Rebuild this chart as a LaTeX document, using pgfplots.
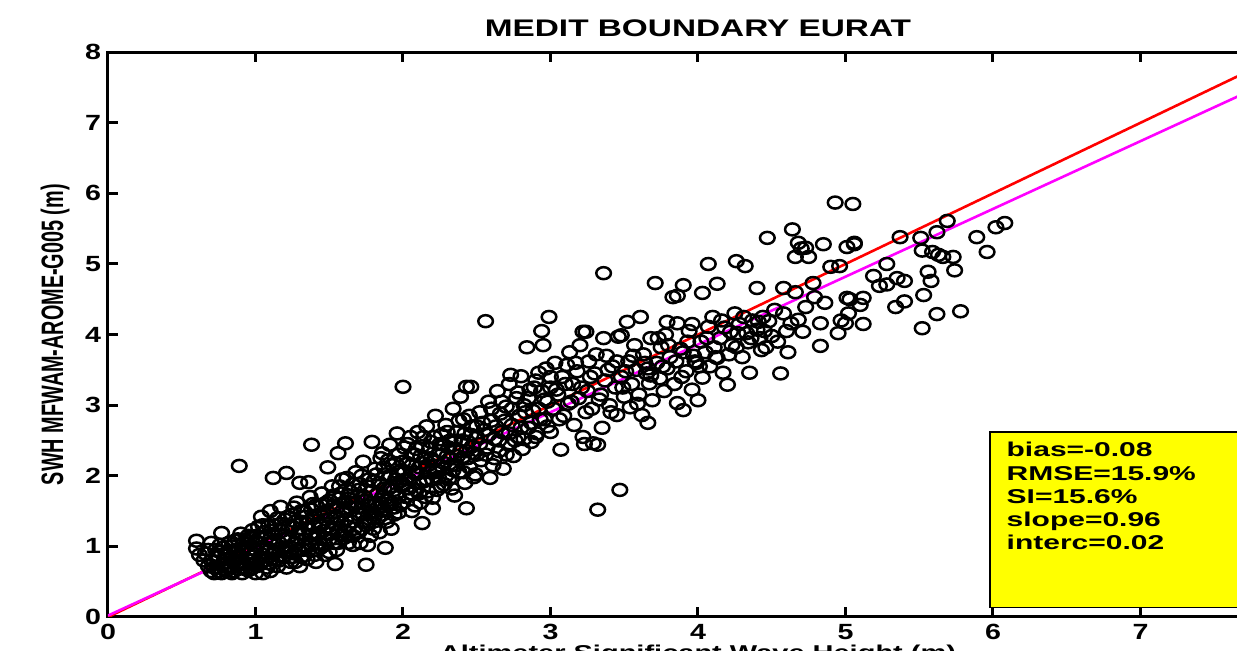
\documentclass[border=0pt]{standalone}
\usepackage{fontspec}
\setmainfont{Liberation Sans}
\newfontfamily\titlefont[FakeStretch=1.39]{Liberation Sans}
\newfontfamily\tickfont[FakeStretch=1.3]{Liberation Sans}
\newfontfamily\statfont[FakeStretch=1.5]{Liberation Sans}
\newfontfamily\xlabfont[FakeStretch=1.45]{Liberation Sans}
\newfontfamily\ylabfont[FakeStretch=0.64]{Liberation Sans}
\usepackage{pgfplots}
\pgfplotsset{compat=1.18}
\definecolor{mred}{RGB}{255,0,0}
\definecolor{mmag}{RGB}{255,0,255}
\definecolor{myel}{RGB}{255,255,0}

% SWH scatter: x = reference, y = model
\pgfplotstableread{
x y
0.60 1.08
0.60 0.97
0.62 0.88
0.65 0.80
0.66 0.90
0.68 0.72
0.70 0.65
0.70 0.80
0.72 0.62
0.73 0.95
0.74 0.70
0.75 0.85
0.76 1.02
0.77 1.19
0.77 0.62
0.78 0.75
0.80 0.90
0.80 0.65
0.82 0.70
0.82 1.05
0.84 0.62
0.85 0.80
0.86 0.95
0.88 0.68
0.88 1.10
0.90 1.18
0.90 0.85
0.91 0.62
0.92 0.75
0.93 1.00
0.95 0.66
0.95 0.90
0.96 1.12
0.97 0.80
0.98 1.23
0.98 0.70
1.00 0.95
1.00 0.62
0.89 2.14
0.68 0.95
0.70 1.05
0.72 0.78
0.74 0.88
0.75 0.65
0.78 0.98
0.79 0.68
0.81 0.82
0.83 0.92
0.85 0.65
0.86 1.08
0.87 0.75
0.89 0.88
0.90 0.70
0.92 1.05
0.94 0.82
0.95 1.15
0.97 0.68
0.99 0.86
1.00 1.08
1.01 0.72
1.02 1.28
0.72 0.70
0.76 0.92
0.79 0.82
0.83 0.72
0.84 1.00
0.87 0.85
0.91 0.95
0.93 0.68
0.94 1.08
0.97 0.92
0.99 0.75
1.02 1.05
1.03 0.75
1.04 1.42
1.05 0.62
1.05 0.88
1.06 1.20
1.08 0.98
1.08 0.70
1.10 1.50
1.10 1.10
1.11 0.82
1.12 1.97
1.13 1.30
1.14 0.92
1.15 0.72
1.16 1.05
1.17 1.56
1.18 1.22
1.19 0.85
1.20 1.38
1.21 2.04
1.21 0.98
1.22 1.12
1.24 0.78
1.25 1.45
1.25 1.28
1.26 0.90
1.27 1.05
1.28 1.62
1.29 1.18
1.30 1.90
1.30 0.72
1.31 1.35
1.32 0.95
1.33 1.50
1.34 1.10
1.35 0.82
1.36 1.91
1.36 1.25
1.37 1.70
1.38 2.44
1.38 1.02
1.39 1.40
1.40 0.88
1.41 1.58
1.42 1.18
1.43 1.32
1.44 0.98
1.45 1.75
1.46 1.48
1.47 1.12
1.48 1.62
1.49 2.12
1.49 1.28
1.50 0.92
1.04 0.96
1.06 0.80
1.07 1.12
1.09 1.30
1.10 0.65
1.12 0.90
1.13 1.18
1.15 1.40
1.16 0.80
1.18 0.98
1.20 1.15
1.21 0.70
1.23 1.28
1.24 0.92
1.26 1.55
1.27 0.78
1.28 1.10
1.30 1.25
1.31 0.85
1.33 1.02
1.34 1.42
1.36 0.95
1.37 1.15
1.39 1.60
1.40 1.28
1.41 0.78
1.43 1.05
1.44 1.45
1.46 1.22
1.47 0.88
1.48 1.38
1.50 1.65
1.50 1.10
1.01 1.15
1.03 0.85
1.05 1.30
1.07 0.92
1.09 0.76
1.11 1.22
1.12 1.05
1.14 0.82
1.17 1.32
1.19 1.10
1.20 0.92
1.22 1.42
1.23 1.00
1.25 0.85
1.27 1.35
1.29 0.95
1.31 1.50
1.32 1.18
1.35 1.32
1.36 1.05
1.38 1.52
1.40 1.12
1.42 0.95
1.44 1.30
1.45 1.58
1.47 1.02
1.49 1.48
1.51 1.40
1.52 1.85
1.53 1.05
1.54 0.75
1.55 1.55
1.56 2.32
1.56 1.22
1.57 1.68
1.58 1.35
1.59 1.95
1.60 1.12
1.61 2.46
1.62 1.97
1.62 1.50
1.63 1.28
1.64 1.78
1.65 1.60
1.66 1.02
1.67 1.42
1.68 2.05
1.69 1.70
1.70 1.20
1.71 1.88
1.72 1.55
1.73 2.20
1.74 1.35
1.75 0.74
1.75 1.65
1.76 1.02
1.77 1.95
1.78 1.48
1.79 2.48
1.79 1.78
1.80 1.25
1.81 2.10
1.82 1.60
1.83 1.40
1.84 1.90
1.85 2.25
1.86 2.32
1.86 1.70
1.87 1.52
1.88 0.98
1.88 2.02
1.89 1.35
1.90 1.82
1.91 2.44
1.92 1.62
1.93 2.15
1.94 1.45
1.95 1.95
1.96 2.60
1.96 1.75
1.97 2.30
1.98 1.58
1.99 2.08
2.00 3.26
2.00 1.88
1.52 1.25
1.53 1.72
1.55 0.95
1.55 1.42
1.57 1.85
1.58 1.15
1.60 1.62
1.61 1.38
1.63 1.05
1.64 1.55
1.66 1.88
1.67 1.25
1.68 1.62
1.70 1.45
1.71 1.05
1.72 2.00
1.74 1.70
1.75 1.30
1.77 1.58
1.78 1.15
1.80 1.92
1.81 1.45
1.83 1.75
1.84 1.20
1.85 1.62
1.87 2.12
1.88 1.40
1.90 1.58
1.91 2.00
1.92 1.25
1.94 1.80
1.95 2.18
1.97 1.48
1.98 1.92
2.00 2.20
2.00 1.62
1.51 1.18
1.53 1.58
1.54 1.32
1.56 1.05
1.58 1.75
1.59 1.50
1.61 1.22
1.63 1.68
1.65 1.35
1.66 1.15
1.69 1.55
1.70 1.80
1.72 1.25
1.73 1.45
1.76 1.85
1.77 1.35
1.79 1.62
1.80 1.40
1.82 2.02
1.83 1.55
1.86 1.45
1.87 1.82
1.89 1.65
1.90 2.22
1.92 1.85
1.94 1.55
1.96 2.05
1.97 1.70
1.99 1.85
2.01 2.40
2.02 1.70
2.03 2.18
2.04 1.95
2.05 2.55
2.06 1.50
2.07 2.05
2.08 2.30
2.09 1.80
2.10 2.62
2.11 2.12
2.12 1.62
2.13 1.33
2.13 2.42
2.14 1.92
2.15 2.25
2.16 2.70
2.17 1.78
2.18 2.05
2.19 2.48
2.20 1.69
2.20 1.54
2.21 2.20
2.22 2.85
2.23 1.80
2.24 1.98
2.25 2.35
2.26 2.58
2.27 2.10
2.28 1.88
2.29 2.72
2.30 2.28
2.31 1.95
2.32 2.50
2.33 2.15
2.34 2.95
2.35 1.72
2.36 2.38
2.37 2.62
2.38 2.05
2.39 3.12
2.40 2.25
2.41 2.80
2.42 1.90
2.43 1.54
2.43 3.26
2.44 2.48
2.45 2.12
2.46 3.26
2.47 2.70
2.48 2.32
2.49 2.02
2.50 2.55
2.02 1.95
2.03 2.45
2.05 1.75
2.06 2.15
2.08 1.58
2.09 2.38
2.11 1.90
2.12 2.28
2.14 2.55
2.15 1.70
2.17 2.15
2.18 2.38
2.20 1.95
2.21 2.55
2.23 2.08
2.24 2.30
2.26 1.85
2.27 2.45
2.29 2.00
2.30 2.62
2.32 2.25
2.33 1.82
2.35 2.50
2.36 2.15
2.38 2.78
2.39 2.35
2.41 2.05
2.42 2.60
2.44 2.25
2.45 2.85
2.47 2.42
2.48 1.98
2.50 2.70
2.50 2.30
2.01 2.05
2.04 1.82
2.06 2.30
2.09 2.02
2.11 1.75
2.13 2.18
2.16 1.95
2.19 2.25
2.22 2.05
2.25 2.45
2.28 2.18
2.31 2.40
2.34 2.08
2.37 2.28
2.40 2.50
2.43 2.35
2.46 2.58
2.52 2.90
2.53 2.22
2.55 2.65
2.56 4.19
2.57 2.40
2.58 3.05
2.59 1.97
2.60 2.78
2.61 2.15
2.62 2.52
2.64 3.20
2.65 2.35
2.66 2.88
2.67 2.62
2.68 2.10
2.70 2.98
2.71 2.45
2.72 3.30
2.73 3.43
2.74 2.72
2.75 2.28
2.77 3.10
2.78 2.55
2.79 2.85
2.80 3.41
2.81 2.38
2.82 3.00
2.84 3.82
2.85 2.68
2.86 3.22
2.87 2.48
2.88 2.92
2.90 3.35
2.91 2.60
2.92 3.46
2.93 2.80
2.94 4.05
2.95 3.85
2.96 3.08
2.97 3.52
2.98 2.70
2.99 4.25
3.00 3.25
2.52 2.45
2.54 2.75
2.56 2.30
2.58 2.58
2.60 2.95
2.62 2.25
2.63 2.70
2.65 2.50
2.67 3.05
2.69 2.78
2.70 2.30
2.72 2.60
2.74 2.95
2.76 2.50
2.78 3.18
2.80 2.68
2.82 2.52
2.83 2.90
2.85 3.10
2.87 2.75
2.89 3.25
2.90 2.55
2.92 2.95
2.94 3.20
2.96 2.80
2.98 3.05
3.00 2.62
3.00 3.40
3.02 2.95
3.03 3.60
3.05 3.15
3.07 2.37
3.08 3.40
3.09 2.85
3.11 3.57
3.12 3.02
3.13 3.75
3.15 3.30
3.16 2.72
3.18 3.48
3.19 3.10
3.20 3.85
3.22 2.55
3.22 4.04
3.23 2.45
3.24 4.04
3.25 3.20
3.26 3.62
3.28 2.95
3.29 2.46
3.30 3.45
3.32 1.52
3.32 2.44
3.33 3.08
3.35 2.68
3.36 4.87
3.36 3.95
3.37 3.35
3.38 3.70
3.40 3.00
3.42 3.55
3.44 3.25
3.45 2.86
3.46 3.97
3.47 1.80
3.48 3.99
3.48 3.40
3.50 3.12
3.04 3.22
3.06 2.80
3.10 3.30
3.14 3.05
3.17 3.60
3.21 3.25
3.24 2.90
3.27 3.40
3.31 3.72
3.34 3.15
3.39 3.50
3.41 2.90
3.45 3.62
3.49 3.25
3.52 4.18
3.53 3.62
3.54 2.97
3.55 3.30
3.57 3.85
3.58 3.50
3.60 3.15
3.61 4.25
3.62 2.86
3.63 3.72
3.65 3.45
3.66 3.52
3.66 2.75
3.67 3.31
3.68 3.95
3.69 3.07
3.71 4.73
3.72 3.60
3.74 3.38
3.75 3.82
3.77 3.20
3.78 4.00
3.79 3.52
3.79 4.18
3.81 3.68
3.83 4.53
3.84 3.30
3.86 4.55
3.86 4.16
3.86 3.03
3.88 3.80
3.90 4.70
3.90 3.75
3.90 2.93
3.92 3.48
3.94 4.05
3.96 4.15
3.96 3.22
3.98 3.62
3.99 3.60
4.00 3.07
3.51 3.48
3.56 3.70
3.59 3.02
3.64 3.60
3.68 3.42
3.73 3.95
3.76 3.55
3.80 3.85
3.85 3.62
3.89 3.40
3.93 3.90
3.97 3.70
4.02 3.90
4.03 4.59
4.03 3.39
4.05 3.75
4.07 5.00
4.07 4.11
4.08 3.55
4.10 4.25
4.12 3.68
4.13 4.72
4.13 3.67
4.15 3.95
4.17 3.46
4.18 4.10
4.20 3.29
4.22 4.04
4.23 3.85
4.25 4.30
4.26 5.04
4.26 3.82
4.28 4.15
4.30 3.68
4.32 4.97
4.33 4.02
4.34 3.89
4.35 3.46
4.37 4.20
4.40 4.66
4.40 4.07
4.42 3.95
4.43 3.78
4.44 4.25
4.46 3.82
4.47 5.37
4.48 4.19
4.50 3.98
4.01 3.55
4.06 3.95
4.11 3.82
4.16 4.20
4.21 3.72
4.27 4.02
4.31 4.25
4.36 3.95
4.41 4.18
4.45 4.05
4.52 4.35
4.54 3.90
4.56 3.45
4.58 4.66
4.58 4.30
4.60 4.05
4.61 3.75
4.63 4.16
4.64 5.49
4.66 4.60
4.66 5.10
4.68 5.30
4.68 4.21
4.70 5.22
4.71 4.04
4.73 5.23
4.73 4.39
4.75 5.10
4.78 4.73
4.79 4.53
4.83 4.16
4.83 3.84
4.85 5.28
4.86 4.45
4.90 4.96
4.93 5.87
4.95 4.02
4.96 4.97
4.97 4.20
5.00 4.16
5.01 5.24
5.01 4.52
5.02 4.30
5.03 4.50
5.05 5.85
5.06 5.30
5.06 5.28
5.10 4.42
5.12 4.52
5.12 4.15
5.19 4.83
5.23 4.69
5.28 5.00
5.28 4.71
5.34 4.39
5.35 4.80
5.37 5.38
5.40 4.76
5.40 4.47
5.51 5.37
5.52 4.09
5.52 5.19
5.53 4.56
5.56 4.89
5.58 4.76
5.59 5.17
5.62 5.45
5.62 4.29
5.63 5.13
5.66 5.10
5.69 5.61
5.73 5.10
5.74 4.91
5.78 4.33
5.89 5.38
5.96 5.17
6.02 5.52
6.08 5.58
}\swhdata

\begin{document}
\begin{tikzpicture}
\begin{axis}[
    scale only axis,
    width=590pt, height=282.4pt,
    xmin=0, xmax=8, ymin=0, ymax=8,
    xtick={0,...,8}, ytick={0,...,8},
    tick align=inside,
    major tick length=5pt,
    major tick style={black, line width=1.5pt},
    axis line style={line width=1.5pt},
    /pgf/number format/assume math mode=true,
    ticklabel style={font=\tickfont\bfseries\fontsize{11}{13}\selectfont},
    title={MEDIT BOUNDARY EURAT},
    title style={font=\titlefont\bfseries\fontsize{12}{14}\selectfont,
        at={(axis description cs:0.5,1)}, anchor=base, yshift=1.6pt},
    xlabel={Altimeter Significant Wave Height (m)},
    xlabel style={font=\xlabfont\bfseries\fontsize{10}{12}\selectfont,
        at={(axis description cs:0.5,0)}, anchor=north, inner sep=0pt, yshift=-14pt},
    ylabel={SWH MFWAM-AROME-G005 (m)},
    ylabel style={font=\ylabfont\bfseries\fontsize{15.5}{17}\selectfont,
        at={(axis description cs:0,0.5)}, anchor=center, yshift=26.5pt},
]
\addplot[only marks, mark=o, mark size=3pt,
    mark options={xscale=1.22, line width=1.25pt, black}] table[x=x, y=y] {\swhdata};
\addplot[mred, line width=1.3pt] coordinates {(0,0) (8,8)};
\addplot[mmag, line width=1.3pt] coordinates {(0,0.02) (8,7.70)};
\draw[fill=myel, line width=0.6pt] (axis cs:5.98,0.14) rectangle (axis cs:8.2,2.62);
\node[anchor=north west, inner sep=0pt, align=left,
    font=\statfont\bfseries\fontsize{10}{11.65}\selectfont]
    at (axis cs:6.09,2.48) {bias=-0.08\\RMSE=15.9\%\\SI=15.6\%\\slope=0.96\\interc=0.02};
\end{axis}
\pgfresetboundingbox
\path[use as bounding box] (-54pt,-17pt) rectangle (564.5pt,308.5pt);
\end{tikzpicture}
\end{document}
